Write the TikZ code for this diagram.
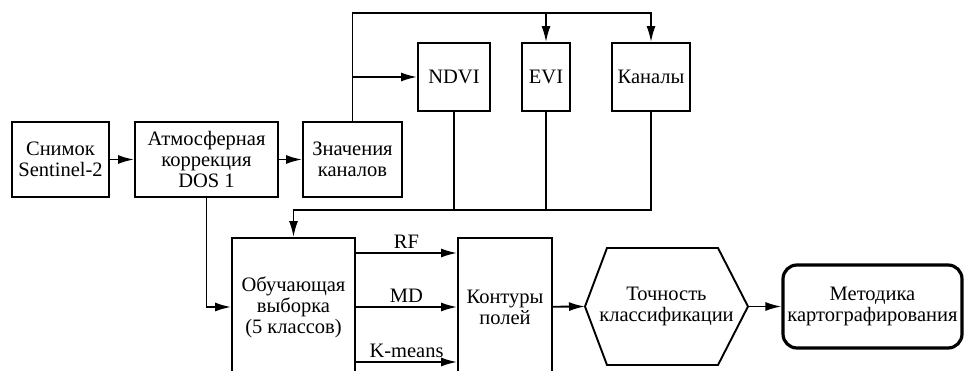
\documentclass[tikz,border=0pt]{standalone}
\usepackage{fontspec}
\setmainfont{Liberation Serif}
\usetikzlibrary{arrows.meta,calc}

\tikzset{
    every node/.style={font=\fontsize{20.5}{21}\selectfont},
    blk/.style={draw, line width=1.9pt, align=center, inner sep=1pt},
    ln/.style={line width=1.8pt},
    arr/.style={line width=1.8pt, -{Latex[length=16pt,width=9pt]}},
}

\begin{document}
\begin{tikzpicture}[x=1pt,y=-1pt]
    \useasboundingbox (0,0) rectangle (964,371);
    \clip (0,0) rectangle (964,371);

    % upper row
    \node[blk, minimum width=97pt, minimum height=75pt] (snimok) at (60.5,159.5) {Снимок\\Sentinel-2};
    \node[blk, minimum width=143pt, minimum height=75pt] (atm) at (206.5,159.5) {Атмосферная\\коррекция\\DOS 1};
    \node[blk, minimum width=99pt, minimum height=75pt] (znach) at (352.5,159.5) {Значения\\каналов};
    \node[blk, minimum width=72pt, minimum height=68pt] (ndvi) at (454,77) {NDVI};
    \node[blk, minimum width=48pt, minimum height=68pt] (evi) at (546,77) {EVI};
    \node[blk, minimum width=78pt, minimum height=68pt] (kanaly) at (651,77) {Каналы};

    % lower row
    \node[blk, minimum width=123pt, minimum height=138pt] (obuch) at (293.5,307) {Обучающая\\выборка\\(5 классов)};
    \node[blk, minimum width=94pt, minimum height=138pt] (kontur) at (505,307) {Контуры\\полей};
    \node[align=center, inner sep=1pt] (tochn) at (666.5,306.5) {Точность\\классификации};
    \coordinate (hexL) at (585,306.5);
    \coordinate (hexR) at (748,306.5);
    \draw[ln, line width=1.9pt] (hexL) -- (607,248) -- (718,248) -- (hexR) -- (718,365) -- (607,365) -- cycle;
    \node[blk, rounded corners=14pt, line width=3.2pt, minimum width=179pt, minimum height=83pt] (metod) at (872.5,306.5) {Методика\\картографирования};

    \coordinate (top) at (0,13);
    \coordinate (bus) at (0,210);

    \draw[arr] (snimok) -- (atm);
    \draw[arr] (atm) -- (znach);
    \draw[arr] (atm.south) |- (obuch.west);

    \draw[arr] (znach.north) |- (kanaly.north |- top) -- (kanaly.north);
    \draw[arr] (evi.north |- top) -- (evi.north);
    \draw[arr] (znach.north |- ndvi.west) -- (ndvi.west);

    \draw[arr] (kanaly.south) |- (obuch.north |- bus) -- (obuch.north);
    \draw[ln] (ndvi.south) -- (ndvi.south |- bus);
    \draw[ln] (evi.south) -- (evi.south |- bus);

    \draw[arr] ($(obuch.east)+(0,-54)$) -- node[above] {RF} ($(kontur.west)+(0,-54)$);
    \draw[arr] (obuch) -- node[above] {MD} (kontur);
    \draw[arr] ($(obuch.east)+(0,55)$) -- node[above] {K-means} ($(kontur.west)+(0,55)$);

    \draw[arr] (kontur) -- (hexL);
    \draw[arr] (hexR) -- (metod);
\end{tikzpicture}
\end{document}
